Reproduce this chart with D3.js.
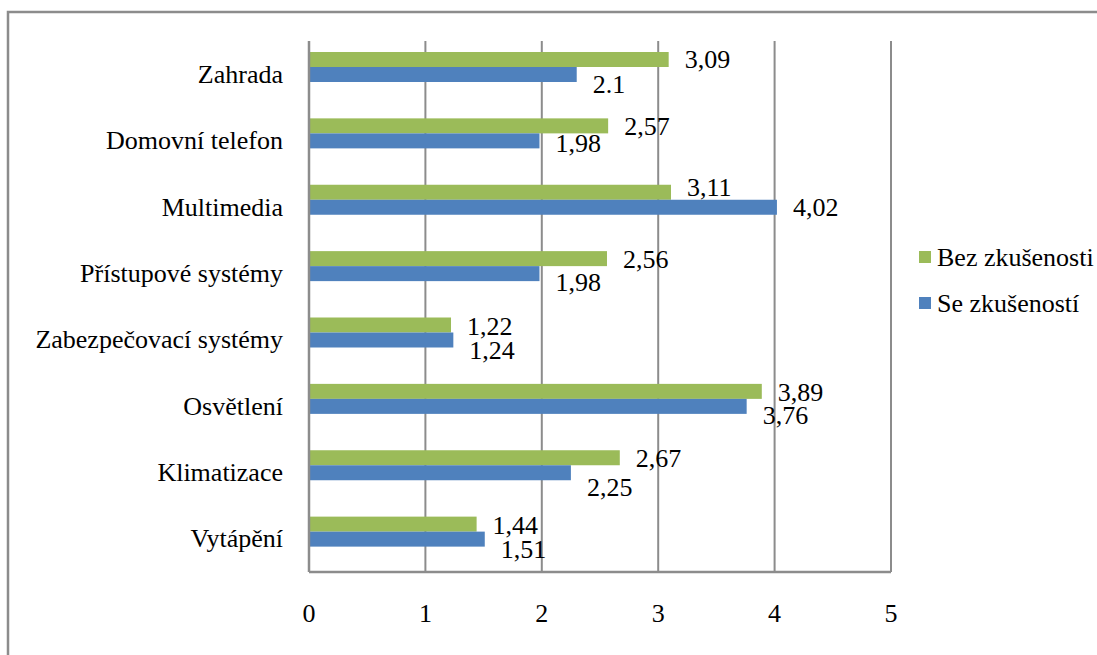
<!DOCTYPE html>
<html>
<head>
<meta charset="utf-8">
<script src="https://cdn.jsdelivr.net/npm/d3@7"></script>
<style>
  body { margin: 0; background: #fff; }
  svg { display: block; }
  text { font-family: "Liberation Serif", "Times New Roman", serif; fill: #000; }
</style>
</head>
<body>
<svg id="chart" width="1097" height="655"></svg>
<script>
// categories top to bottom
var categories = ["Zahrada", "Domovní telefon", "Multimedia", "Přístupové systémy",
  "Zabezpečovací systémy", "Osvětlení", "Klimatizace", "Vytápění"];
var seriesNames = ["Bez zkušenosti", "Se zkušeností"];
var bezValues = [3.09, 2.57, 3.11, 2.56, 1.22, 3.89, 2.67, 1.44];
// the Zahrada bar is drawn at ~2.3 in the source although its label says 2.1
var seValues = [2.3, 1.98, 4.02, 1.98, 1.24, 3.76, 2.25, 1.51];
// labels as printed in the source (one uses a dot)
var bezLabels = ["3,09", "2,57", "3,11", "2,56", "1,22", "3,89", "2,67", "1,44"];
var seLabels = ["2.1", "1,98", "4,02", "1,98", "1,24", "3,76", "2,25", "1,51"];
var xTicks = [0, 1, 2, 3, 4, 5];

var colors = ["#9BBB59", "#4F81BD"];

var svg = d3.select("#chart");

// outer frame (runs off the right/bottom edge like the original)
svg.append("rect")
  .attr("x", 8).attr("y", 12)
  .attr("width", 1100).attr("height", 660)
  .attr("fill", "none")
  .attr("stroke", "#8c8c8c")
  .attr("stroke-width", 2.5);

// note: "top" is taken by window.top, so use other names
var plotLeft = 309, plotRight = 891, plotTop = 41, plotBottom = 572;

var x = d3.scaleLinear().domain([0, 5]).range([plotLeft, plotRight]);
var y = d3.scaleBand().domain(categories).range([plotTop, plotBottom]);
var barH = 15;
var barOffset = 11; // bars sit a bit above the band centre

// gridlines
svg.append("g")
  .selectAll("line")
  .data(xTicks.slice(1))
  .enter()
  .append("line")
  .attr("x1", function (d) { return x(d); })
  .attr("x2", function (d) { return x(d); })
  .attr("y1", plotTop)
  .attr("y2", plotBottom)
  .attr("stroke", "#8c8c8c")
  .attr("stroke-width", 2);

var rows = categories.map(function (c, i) {
  return { cat: c, vals: [bezValues[i], seValues[i]], labels: [bezLabels[i], seLabels[i]], i: i };
});

// little per-label nudges to mimic where the labels landed in the source
var labelDy = [
  [0, 10], [0, 2], [-5, 0], [1, 9], [1, 10], [1, 9], [0, 14], [1, 10]
];

var g = svg.append("g");
rows.forEach(function (r) {
  r.vals.forEach(function (v, s) {
    var by = y(r.cat) + barOffset + s * barH;
    g.append("rect")
      .attr("x", x(0))
      .attr("y", by)
      .attr("width", x(v) - x(0))
      .attr("height", barH)
      .attr("fill", colors[s]);
    g.append("text")
      .attr("x", x(v) + 16)
      .attr("y", by + barH / 2 + labelDy[r.i][s])
      .attr("dy", "0.34em")
      .attr("font-size", 26)
      .text(r.labels[s]);
  });
});

// axis lines
svg.append("line")
  .attr("x1", x(0)).attr("x2", x(0))
  .attr("y1", plotTop).attr("y2", plotBottom)
  .attr("stroke", "#8c8c8c").attr("stroke-width", 2.5);
svg.append("line")
  .attr("x1", x(0)).attr("x2", x(5))
  .attr("y1", plotBottom).attr("y2", plotBottom)
  .attr("stroke", "#8c8c8c").attr("stroke-width", 2.5);

// x tick labels
svg.append("g")
  .selectAll("text")
  .data(xTicks)
  .enter()
  .append("text")
  .attr("x", function (d) { return x(d); })
  .attr("y", 613)
  .attr("dy", "0.34em")
  .attr("text-anchor", "middle")
  .attr("font-size", 26)
  .text(function (d) { return d; });

// category labels
svg.append("g")
  .selectAll("text")
  .data(categories)
  .enter()
  .append("text")
  .attr("x", x(0) - 26)
  .attr("y", function (d) { return y(d) + y.bandwidth() / 2; })
  .attr("dy", "0.33em")
  .attr("text-anchor", "end")
  .attr("font-size", 26)
  .text(function (d) { return d; });

// legend
var legend = svg.append("g");
seriesNames.forEach(function (name, s) {
  var ly = 257 + s * 46;
  legend.append("rect")
    .attr("x", 919).attr("y", ly - 6)
    .attr("width", 12).attr("height", 12)
    .attr("fill", colors[s]);
  legend.append("text")
    .attr("x", 937).attr("y", ly)
    .attr("dy", "0.33em")
    .attr("font-size", 26)
    .text(name);
});
</script>
</body>
</html>
